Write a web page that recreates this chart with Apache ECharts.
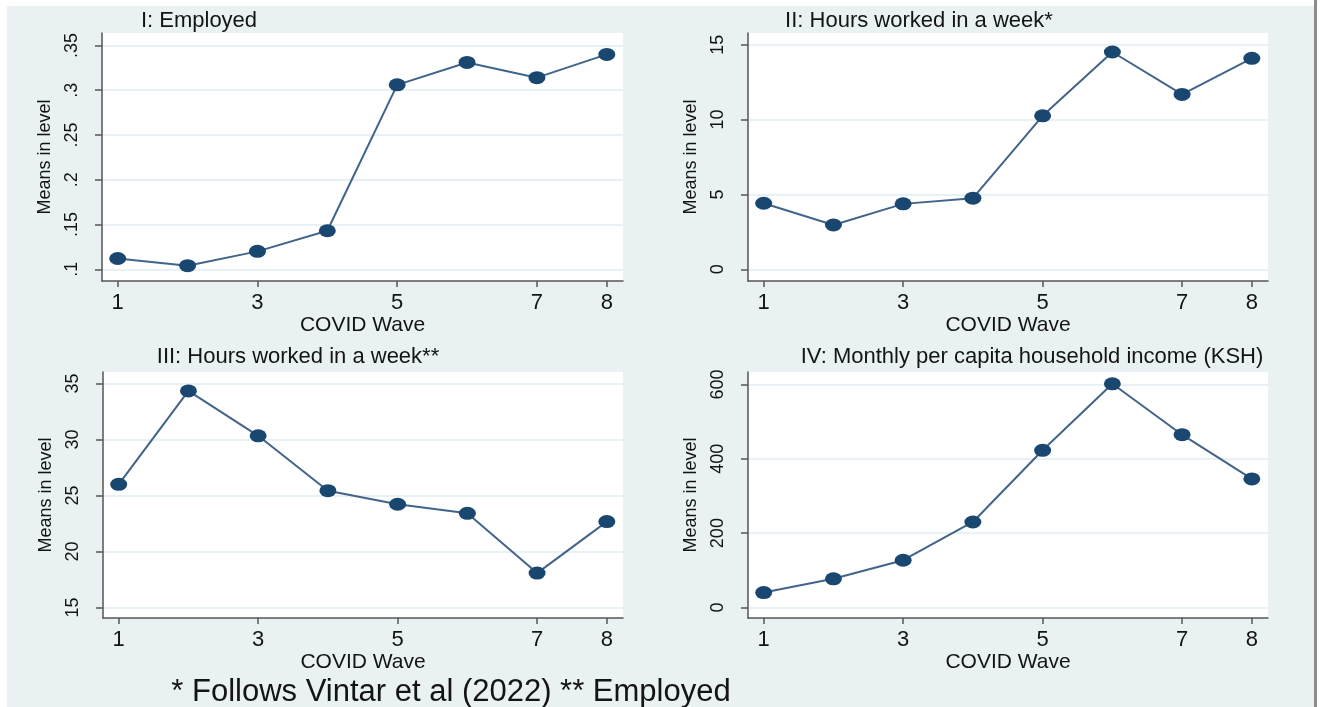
<!DOCTYPE html>
<html>
<head>
<meta charset="utf-8">
<title>COVID wave means</title>
<script src="https://cdn.jsdelivr.net/npm/echarts@6.0.0/dist/echarts.min.js"></script>
<style>
	html, body { margin: 0; padding: 0; background: #fff; }
	#chart { width: 1323px; height: 707px; }
</style>
</head>
<body>
<div id="chart"></div>
<script>
// data
var waves = [1, 2, 3, 4, 5, 6, 7, 8];
var wave_ticks = [1, 3, 5, 7, 8];

var employed = [0.112, 0.104, 0.120, 0.143, 0.306, 0.331, 0.314, 0.340];
var hours_all = [4.41, 2.96, 4.37, 4.75, 10.25, 14.51, 11.68, 14.09];
var hours_employed = [26.0, 34.34, 30.33, 25.43, 24.22, 23.41, 18.07, 22.67];
var income = [40, 77, 127, 230, 423, 602, 465, 346];

var employed_ticks = [0.1, 0.15, 0.2, 0.25, 0.3, 0.35];
var employed_labels = ['.1', '.15', '.2', '.25', '.3', '.35'];
var hours_all_ticks = [0, 5, 10, 15];
var hours_employed_ticks = [15, 20, 25, 30, 35];
var income_ticks = [0, 200, 400, 600];

var font_family = '"Liberation Sans", Arial, sans-serif';
var text_color = '#141414';
var bg_color = '#eaf1f3';
var grid_line_color = '#e8f1f3';
var axis_color = '#555555';
var marker_color = '#1a476f';
var line_color = '#41648a';

var panels = [
	{ title: 'I: Employed', tx: 199, ty: 21, box: { left: 102, top: 33, width: 521, height: 248 },
		yMin: 0.0869, yMax: 0.3639, ticks: employed_ticks, labels: employed_labels, values: employed },
	{ title: 'II: Hours worked in a week*', tx: 919, ty: 21, box: { left: 748, top: 33, width: 520, height: 248 },
		yMin: -0.78, yMax: 15.78, ticks: hours_all_ticks, labels: null, values: hours_all },
	{ title: 'III: Hours worked in a week**', tx: 298, ty: 357, box: { left: 103, top: 372, width: 520, height: 246 },
		yMin: 14.06, yMax: 36.03, ticks: hours_employed_ticks, labels: null, values: hours_employed },
	{ title: 'IV: Monthly per capita household income (KSH)', tx: 1032, ty: 357, box: { left: 748, top: 372, width: 520, height: 246 },
		yMin: -28.5, yMax: 633.8, ticks: income_ticks, labels: null, values: income }
];

var grids = [], xAxes = [], yAxes = [], series = [], graphics = [];

panels.forEach(function (p, i) {
	grids.push({
		left: p.box.left, top: p.box.top, width: p.box.width, height: p.box.height,
		show: true, backgroundColor: '#ffffff', borderWidth: 0, containLabel: false
	});

	xAxes.push({
		type: 'value', gridIndex: i, min: 0.775, max: 8.232,
		name: 'COVID Wave', nameLocation: 'middle', nameGap: 30,
		nameTextStyle: { color: text_color, fontSize: 21, fontFamily: font_family },
		axisLine: { show: true, onZero: false, lineStyle: { color: axis_color, width: 1.5 } },
		axisTick: { show: true, length: 6, customValues: wave_ticks, lineStyle: { color: axis_color, width: 1.5 } },
		axisLabel: { customValues: wave_ticks, margin: 11, color: text_color, fontSize: 22, fontFamily: font_family },
		splitLine: { show: false }
	});

	var ticks = p.ticks, labels = p.labels;
	yAxes.push({
		type: 'value', gridIndex: i, min: p.yMin, max: p.yMax,
		name: 'Means in level', nameLocation: 'middle', nameGap: 48,
		nameTextStyle: { color: text_color, fontSize: 18, fontFamily: font_family },
		axisLine: { show: true, onZero: false, lineStyle: { color: axis_color, width: 1.5 } },
		axisTick: { show: true, length: 7, customValues: ticks, lineStyle: { color: axis_color, width: 1.5 } },
		axisLabel: {
			customValues: ticks, rotate: 90, margin: 21,
			color: text_color, fontSize: 18, fontFamily: font_family,
			formatter: function (v) {
				if (!labels) return String(v);
				for (var k = 0; k < ticks.length; k++) {
					if (Math.abs(ticks[k] - v) < 1e-9) return labels[k];
				}
				return String(v);
			}
		},
		splitLine: { show: true, lineStyle: { color: grid_line_color, width: 2 } }
	});

	series.push({
		type: 'line', xAxisIndex: i, yAxisIndex: i,
		data: waves.map(function (w, k) { return [w, p.values[k]]; }),
		symbol: 'circle', symbolSize: [17, 13],
		itemStyle: { color: marker_color },
		lineStyle: { color: line_color, width: 2 },
		clip: false
	});

	graphics.push({
		type: 'text', x: p.tx, y: p.ty,
		style: { text: p.title, fill: text_color, font: '22px ' + font_family, textAlign: 'center', textVerticalAlign: 'middle' }
	});
});

// footnote and the white frame round the Stata graph region
graphics.push({
	type: 'text', x: 451, y: 692,
	style: { text: '* Follows Vintar et al (2022) ** Employed', fill: text_color, font: '31px ' + font_family, textAlign: 'center', textVerticalAlign: 'middle' }
});
graphics.push({ type: 'rect', shape: { x: 0, y: 0, width: 1323, height: 6 }, style: { fill: '#ffffff' } });
graphics.push({ type: 'rect', shape: { x: 0, y: 0, width: 7, height: 707 }, style: { fill: '#ffffff' } });
graphics.push({ type: 'rect', shape: { x: 1314, y: 0, width: 9, height: 707 }, style: { fill: '#ffffff' } });
graphics.push({ type: 'rect', shape: { x: 1314, y: 0, width: 3, height: 707 }, style: { fill: '#8c8c8c' } });

var chart = echarts.init(document.getElementById('chart'));
chart.setOption({
	animation: false,
	backgroundColor: bg_color,
	grid: grids,
	xAxis: xAxes,
	yAxis: yAxes,
	series: series,
	graphic: graphics
});
</script>
</body>
</html>
